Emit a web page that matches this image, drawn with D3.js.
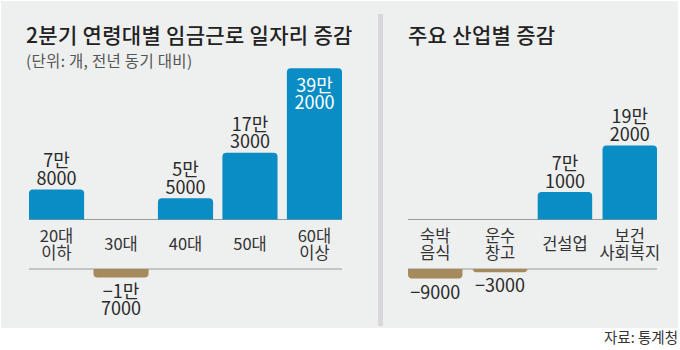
<!DOCTYPE html>
<html><head><meta charset="utf-8">
<script src="https://cdn.jsdelivr.net/npm/d3@7"></script>
<style>
html,body{margin:0;padding:0;background:#fff;}
svg{display:block;font-family:"Noto Sans CJK KR","Noto Sans",sans-serif;}
</style></head>
<body><svg id="c" width="680" height="350"></svg>
<script>
// ---- data ----
const ageCategories = [["20대","이하"],["30대"],["40대"],["50대"],["60대","이상"]];
const ageValues = [78000, -17000, 55000, 173000, 392000];
const ageLabels = [["7만","8000"],["−1만","7000"],["5만","5000"],["17만","3000"],["39만","2000"]];

const industryCategories = [["숙박","음식"],["운수","창고"],["건설업"],["보건","사회복지"]];
const industryValues = [-9000, -3000, 71000, 192000];
const industryLabels = [["−9000"],["−3000"],["7만","1000"],["19만","2000"]];

const leftTitle = "2분기 연령대별 임금근로 일자리 증감";
const leftSubtitle = "(단위: 개, 전년 동기 대비)";
const rightTitle = "주요 산업별 증감";
const sourceText = "자료: 통계청";

// ---- drawing ----
const svg = d3.select("#c");
const BLUE = "#0a8dc5", BROWN = "#a68a5b", TEXT = "#2a2a2a";
svg.append("rect").attr("x",1).attr("y",1).attr("width",677).attr("height",327).attr("fill","#eeefef");
svg.append("rect").attr("x",378).attr("y",14).attr("width",5).attr("height",312).attr("fill","#d8d7d9");

const topLineY = 219.5, botLineY = 269;
const posScale = d3.scaleLinear().domain([0, 392000]).range([topLineY, topLineY - 151.3]);

function roundedBar(x, y0, w, h, r, up){
  r = Math.min(r, h);
  if(up){
    const t = y0 - h;
    return `M${x},${y0}V${t+r}Q${x},${t} ${x+r},${t}H${x+w-r}Q${x+w},${t} ${x+w},${t+r}V${y0}Z`;
  } else {
    const b = y0 + h;
    return `M${x},${y0}V${b-r}Q${x},${b} ${x+r},${b}H${x+w-r}Q${x+w},${b} ${x+w},${b-r}V${y0}Z`;
  }
}

function multiText(g, lines, cx, firstY, lh, size, fill){
  const t = g.append("text").attr("text-anchor","middle").attr("font-size",size).attr("fill",fill);
  lines.forEach((s,k)=>{
    t.append("tspan").attr("x",cx).attr("y",firstY + k*lh).text(s);
  });
  return t;
}

function panel(cfg){
  const g = svg.append("g");
  const x = d3.scaleBand().domain(d3.range(cfg.values.length)).range([cfg.x0, cfg.x1]).paddingInner(cfg.padIn).paddingOuter(0);
  const negMax = d3.max(cfg.values.filter(v=>v<0).map(v=>-v)) || 1;
  const negScale = d3.scaleLinear().domain([0, negMax]).range([0, cfg.negDepth]);
  [topLineY, botLineY].forEach(y=>{
    g.append("line").attr("x1",cfg.x0).attr("x2",cfg.x1).attr("y1",y).attr("y2",y)
      .attr("stroke","#9a9a9a").attr("stroke-width",1);
  });
  const LH = 17.5;
  cfg.values.forEach((v,i)=>{
    const bx = x(i), bw = x.bandwidth(), cx = bx + bw/2;
    const lines = cfg.labels[i];
    if(v>=0){
      const top = posScale(v), h = topLineY - top;
      g.append("path").attr("d", roundedBar(bx, topLineY, bw, h, 4, true)).attr("fill", BLUE);
      const inside = top - 40 < 70;
      const firstY = inside ? top + 23.5 : top - 4.5 - (lines.length-1)*LH;
      multiText(g, lines, cx, firstY, LH, 18, inside ? "#fff" : TEXT);
    } else {
      const h = negScale(-v);
      g.append("path").attr("d", roundedBar(bx, botLineY, bw, h, 4, false)).attr("fill", BROWN);
      multiText(g, lines, cx, botLineY + h + 20, LH, 18, TEXT);
    }
    const cat = cfg.cats[i];
    const mid = (topLineY+botLineY)/2 + 6;
    multiText(g, cat, cx, mid - (cat.length-1)/2*LH, LH, 16.5, "#333");
  });
}

panel({x0:29, x1:342, padIn:0.145, values:ageValues, labels:ageLabels, cats:ageCategories, negDepth:8.5});
panel({x0:408, x1:657, padIn:0.16, values:industryValues, labels:industryLabels, cats:industryCategories, negDepth:9.5});

svg.append("text").attr("x",26).attr("y",43).attr("font-size",21).attr("font-weight",500)
  .attr("fill","#222").attr("letter-spacing",0.3).text(leftTitle);
svg.append("text").attr("x",26).attr("y",66.5).attr("font-size",15.5)
  .attr("fill","#555").attr("letter-spacing",0.3).text(leftSubtitle);
svg.append("text").attr("x",408).attr("y",43).attr("font-size",21).attr("font-weight",500)
  .attr("fill","#222").attr("letter-spacing",0.3).text(rightTitle);
svg.append("text").attr("x",678).attr("y",343).attr("text-anchor","end").attr("font-size",14.5)
  .attr("fill","#333").text(sourceText);
</script></body></html>
